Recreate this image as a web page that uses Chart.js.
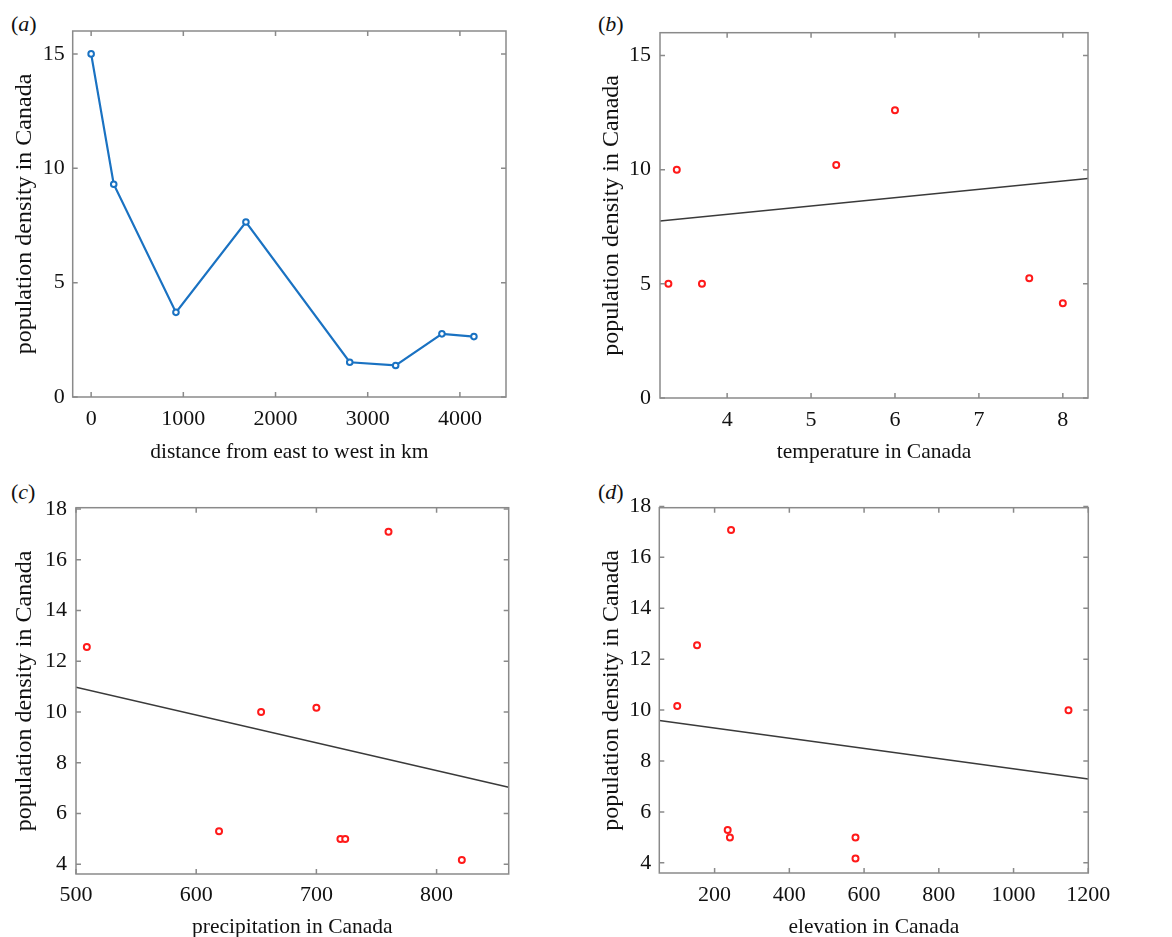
<!DOCTYPE html>
<html>
<head>
<meta charset="utf-8">
<script src="https://cdn.jsdelivr.net/npm/chart.js@4/dist/chart.umd.min.js"></script>
<style>
  html, body { margin: 0; padding: 0; background: #fff; overflow: hidden; }
  body { width: 1172px; height: 937px; position: relative; }
  .panel { position: absolute; }
  .tag { position: absolute; font: 22px 'Liberation Serif', serif; color: #111; }
</style>
</head>
<body>
<div class="tag" style="left:11px;top:11px">(<i>a</i>)</div>
<div class="tag" style="left:598px;top:11px">(<i>b</i>)</div>
<div class="tag" style="left:11px;top:479px">(<i>c</i>)</div>
<div class="tag" style="left:598px;top:479px">(<i>d</i>)</div>

<div class="panel" style="left:0;top:0;width:586px;height:470px"><canvas id="chartA"></canvas></div>
<div class="panel" style="left:586px;top:0;width:586px;height:470px"><canvas id="chartB"></canvas></div>
<div class="panel" style="left:0;top:470px;width:586px;height:480px"><canvas id="chartC"></canvas></div>
<div class="panel" style="left:586px;top:470px;width:586px;height:480px"><canvas id="chartD"></canvas></div>

<script>
'use strict';

// ── Data ──
const yTitle = 'population density in Canada';

// (a) distance east → west
const distKm   = [0, 245, 920, 1679, 2805, 3303, 3805, 4152];
const densityA = [15.0, 9.3, 3.7, 7.65, 1.52, 1.38, 2.76, 2.64];
const xTicksA  = [0, 1000, 2000, 3000, 4000];
const yTicksA  = [0, 5, 10, 15];

// (b) temperature
const tempC    = [3.3, 3.4, 3.7, 5.3, 6.0, 7.6, 8.0];
const densityB = [5.0, 10.0, 5.0, 10.2, 12.6, 5.25, 4.15];
const fitXB    = [3.2, 8.3];
const fitYB    = [7.75, 9.61];
const xTicksB  = [4, 5, 6, 7, 8];
const yTicksB  = [0, 5, 10, 15];

// (c) precipitation
const precip   = [509, 619, 654, 700, 760, 720, 724, 821];
const densityC = [12.56, 5.3, 10.0, 10.17, 17.1, 5.0, 5.0, 4.17];
const fitXC    = [500, 860];
const fitYC    = [10.98, 7.04];
const xTicksC  = [500, 600, 700, 800];
const yTicksCD = [4, 6, 8, 10, 12, 14, 16, 18];

// (d) elevation
const elev     = [100, 153, 244, 235, 241, 577, 577, 1147];
const densityD = [10.16, 12.55, 17.07, 5.29, 4.99, 4.99, 4.17, 9.99];
const fitXD    = [52, 1200];
const fitYD    = [9.59, 7.29];
const xTicksD  = [200, 400, 600, 800, 1000, 1200];

const FONT = "'Liberation Serif', 'Times New Roman', serif";
const BLUE = '#1a72c2';
const RED  = '#ff1a1a';
const BOX  = '#8a8a8a';

Chart.defaults.font.family = FONT;
Chart.defaults.color = '#111';

// ── MATLAB-style box with inward ticks on all four sides ──
const boxPlugin = {
  id: 'matlabBox',
  afterDraw(chart) {
    const { ctx, chartArea: a, scales } = chart;
    ctx.save();
    ctx.strokeStyle = BOX;
    ctx.lineWidth = 1.5;
    ctx.strokeRect(a.left, a.top, a.right - a.left, a.bottom - a.top);
    const len = 5;
    ctx.beginPath();
    scales.x.ticks.forEach((t) => {
      const px = scales.x.getPixelForValue(t.value);
      ctx.moveTo(px, a.bottom); ctx.lineTo(px, a.bottom - len);
      ctx.moveTo(px, a.top);    ctx.lineTo(px, a.top + len);
    });
    scales.y.ticks.forEach((t) => {
      const py = scales.y.getPixelForValue(t.value);
      ctx.moveTo(a.left, py);  ctx.lineTo(a.left + len, py);
      ctx.moveTo(a.right, py); ctx.lineTo(a.right - len, py);
    });
    ctx.stroke();
    ctx.restore();
  },
};

const toPts = (xs, ys) => xs.map((x, i) => ({ x: x, y: ys[i] }));

function makeChart(id, cfg) {
  return new Chart(document.getElementById(id), {
    type: 'scatter',
    data: { datasets: cfg.datasets },
    plugins: [boxPlugin],
    options: {
      responsive: true, maintainAspectRatio: false, animation: false,
      layout: { padding: { top: cfg.padTop, right: cfg.padRight, left: 0, bottom: 0 } },
      plugins: { legend: { display: false }, tooltip: { enabled: false } },
      scales: {
        x: {
          type: 'linear', min: cfg.xMin, max: cfg.xMax,
          afterBuildTicks: (s) => { s.ticks = cfg.xTicks.map((v) => ({ value: v })); },
          afterFit: (s) => { s.height = cfg.xAxisH; },
          grid: { display: false, drawTicks: false },
          border: { display: false },
          ticks: { font: { size: 22 }, padding: cfg.xTickPad, autoSkip: false, maxRotation: 0,
                   callback: (v) => String(v) },
          title: { display: true, text: cfg.xTitle, font: { size: 21.5 }, padding: { top: 0, bottom: cfg.xTitlePad } },
        },
        y: {
          type: 'linear', min: cfg.yMin, max: cfg.yMax,
          afterBuildTicks: (s) => { s.ticks = cfg.yTicks.map((v) => ({ value: v })); },
          afterFit: (s) => { s.width = cfg.yAxisW; },
          grid: { display: false, drawTicks: false },
          border: { display: false },
          ticks: { font: { size: 22 }, padding: cfg.yTickPad, autoSkip: false,
                   callback: (v) => String(v) },
          title: { display: true, text: yTitle, font: { size: 24 }, padding: { top: cfg.yTitlePad, bottom: 0 } },
        },
      },
    },
  });
}

function redDots(xs, ys) {
  return {
    data: toPts(xs, ys), showLine: false,
    pointRadius: 3, pointBorderWidth: 2, pointBorderColor: RED,
    pointBackgroundColor: '#fff', order: 1,
  };
}

function fitLine(xs, ys) {
  return {
    data: toPts(xs, ys), showLine: true, borderColor: '#3a3a3a', borderWidth: 1.5,
    pointRadius: 0, order: 2,
  };
}

makeChart('chartA', {
  datasets: [{
    data: toPts(distKm, densityA), showLine: true, borderColor: BLUE, borderWidth: 2.2,
    pointRadius: 2.8, pointBorderWidth: 2, pointBorderColor: BLUE, pointBackgroundColor: '#fff',
  }],
  xMin: -200, xMax: 4500, yMin: 0, yMax: 16, xTicks: xTicksA, yTicks: yTicksA,
  xTitle: 'distance from east to west in km',
  padTop: 31, padRight: 80, xAxisH: 73, yAxisW: 72.7,
  xTickPad: 9, yTickPad: 8, xTitlePad: 5, yTitlePad: 10,
});

makeChart('chartB', {
  datasets: [redDots(tempC, densityB), fitLine(fitXB, fitYB)],
  xMin: 3.2, xMax: 8.3, yMin: 0, yMax: 16, xTicks: xTicksB, yTicks: yTicksB,
  xTitle: 'temperature in Canada',
  padTop: 32.7, padRight: 84, xAxisH: 72, yAxisW: 74,
  xTickPad: 9, yTickPad: 9, xTitlePad: 5, yTitlePad: 11.6,
});

makeChart('chartC', {
  datasets: [redDots(precip, densityC), fitLine(fitXC, fitYC)],
  xMin: 500, xMax: 860, yMin: 3.62, yMax: 18.05, xTicks: xTicksC, yTicks: yTicksCD,
  xTitle: 'precipitation in Canada',
  padTop: 37.7, padRight: 77.3, xAxisH: 76, yAxisW: 76,
  xTickPad: 8, yTickPad: 9, xTitlePad: 10, yTitlePad: 10,
});

makeChart('chartD', {
  datasets: [redDots(elev, densityD), fitLine(fitXD, fitYD)],
  xMin: 52, xMax: 1200, yMin: 3.6, yMax: 17.95, xTicks: xTicksD, yTicks: yTicksCD,
  xTitle: 'elevation in Canada',
  padTop: 37.7, padRight: 83.7, xAxisH: 77, yAxisW: 73.3,
  xTickPad: 9, yTickPad: 8, xTitlePad: 10, yTitlePad: 11.6,
});
</script>
</body>
</html>
